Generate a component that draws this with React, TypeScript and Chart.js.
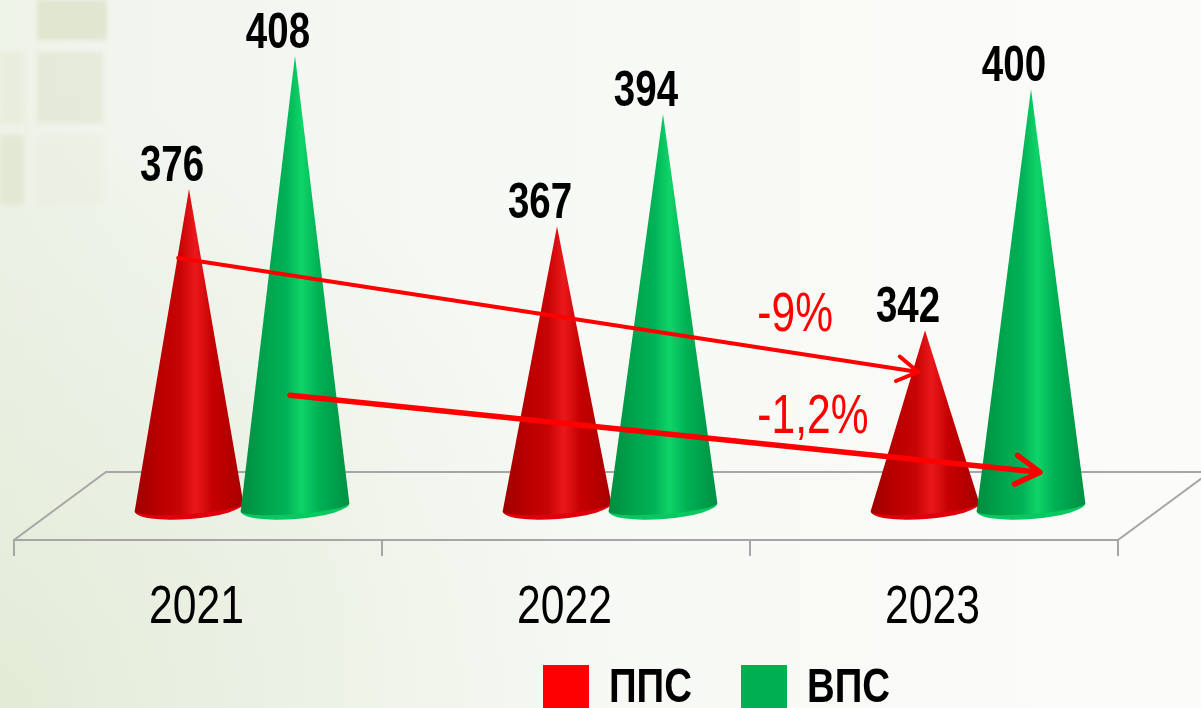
import React, { useEffect, useRef } from "react";
import { Chart, registerables } from "chart.js";

Chart.register(...registerables);

const years = ["2021", "2022", "2023"];
const ppsName = "ППС";
const vpsName = "ВПС";
const ppsValues = [376, 367, 342];
const vpsValues = [408, 394, 400];

const arrowLabels = ["-9%", "-1,2%"];
const arrowFromIndex = [-0.054, 0.25];
const arrowToIndex = [1.957, 2.288];
const arrowFromValue = [359.4, 326.4];
const arrowToValue = [332, 307.9];
const arrowWidths = [4, 5.5];
const arrowLabelIndex = [1.52, 1.52];
const arrowLabelValue = [341.8, 317.3];

const FONT = '"Liberation Sans", Arial, sans-serif';

const shades: Record<string, string[]> = {
  red: ["#a00000", "#bc0000", "#c80404", "#ea181c", "#c40000", "#a80000", "#e0000c"],
  green: ["#008c40", "#00a64e", "#00b257", "#0fd468", "#00b054", "#009044", "#08c862"],
};

function narrowText(ctx: CanvasRenderingContext2D, text: string, x: number, y: number, sx: number) {
  ctx.save();
  ctx.translate(x, y);
  ctx.scale(sx, 1);
  ctx.fillText(text, 0, 0);
  ctx.restore();
}

function drawCone(ctx: CanvasRenderingContext2D, cx: number, tip: number, base: number, halfW: number, tone: string[]) {
  const rot = -0.075;
  ctx.save();
  ctx.fillStyle = tone[6];
  ctx.beginPath();
  ctx.ellipse(cx, base, halfW, 12, rot, 0, Math.PI);
  ctx.closePath();
  ctx.fill();
  const g = ctx.createLinearGradient(cx - halfW, 0, cx + halfW, 0);
  [0, 0.25, 0.42, 0.56, 0.72, 1].forEach((s, i) => g.addColorStop(s, tone[i]));
  ctx.fillStyle = g;
  ctx.beginPath();
  ctx.moveTo(cx, tip);
  ctx.lineTo(cx + halfW * Math.cos(rot), base + halfW * Math.sin(rot));
  ctx.ellipse(cx, base, halfW, 7, rot, 0, Math.PI);
  ctx.closePath();
  ctx.fill();
  ctx.restore();
}

const backdrop = {
  id: "backdrop",
  beforeDraw(chart: any) {
    const { ctx, width, height } = chart;
    ctx.save();
    const h = ctx.createLinearGradient(0, 0, width, 0);
    h.addColorStop(0, "#eef3e8");
    h.addColorStop(0.1, "#f1f5ee");
    h.addColorStop(0.35, "#f6f8f3");
    h.addColorStop(1, "#fbfcf9");
    ctx.fillStyle = h;
    ctx.fillRect(0, 0, width, height);
    const v = ctx.createRadialGradient(0, 708, 20, 0, 708, 620);
    v.addColorStop(0, "rgba(214,228,196,0.5)");
    v.addColorStop(0.5, "rgba(222,233,210,0.35)");
    v.addColorStop(1, "rgba(222,233,210,0)");
    ctx.fillStyle = v;
    ctx.fillRect(0, 0, width, height);
    const cells = [
      [37, 0, 70, 40, 0.7], [37, 52, 66, 71, 0.45], [0, 52, 24, 71, 0.3],
      [37, 135, 66, 70, 0.12], [0, 135, 24, 70, 0.55],
    ];
    ctx.filter = "blur(2px)";
    cells.forEach(([x, y, w, hh, a]) => {
      ctx.fillStyle = `rgba(218,224,196,${a})`;
      ctx.fillRect(x, y, w, hh);
    });
    ctx.restore();
  },
};

const cones = {
  id: "cones",
  beforeDatasetsDraw(chart: any) {
    const { ctx, chartArea, scales } = chart;
    const depthX = 92, depthY = 68;
    ctx.save();
    ctx.strokeStyle = "#a6a6a6";
    ctx.lineWidth = 2;
    ctx.beginPath();
    ctx.moveTo(chartArea.left, chartArea.bottom);
    ctx.lineTo(chartArea.left + depthX, chartArea.bottom - depthY);
    ctx.lineTo(chartArea.right + depthX, chartArea.bottom - depthY);
    ctx.lineTo(chartArea.right, chartArea.bottom);
    ctx.stroke();
    ctx.restore();
    const base = scales.y.getPixelForValue(300) + 2;
    const tones = [shades.red, shades.green];
    years.forEach((_, i) => {
      [0, 1].forEach((d) => {
        const bar = chart.getDatasetMeta(d).data[i];
        drawCone(ctx, bar.x + 44, bar.y, base, bar.width / 2 + 1.5, tones[d]);
      });
    });
  },
  beforeDatasetDraw() {
    return false;
  },
  afterDatasetsDraw(chart: any) {
    const { ctx, scales } = chart;
    ctx.save();
    ctx.fillStyle = "#000";
    ctx.textAlign = "center";
    ctx.textBaseline = "alphabetic";
    ctx.font = `bold 50px ${FONT}`;
    [0, 1].forEach((d) => {
      chart.getDatasetMeta(d).data.forEach((bar: any, i: number) => {
        narrowText(ctx, String(chart.data.datasets[d].data[i]), bar.x + 27, bar.y - 8, 0.77);
      });
    });
    ctx.strokeStyle = "#ff0000";
    ctx.fillStyle = "#ff0000";
    ctx.lineCap = "round";
    ctx.lineJoin = "round";
    arrowLabels.forEach((label, i) => {
      const x1 = scales.x.getPixelForValue(arrowFromIndex[i]);
      const x2 = scales.x.getPixelForValue(arrowToIndex[i]);
      const y1 = scales.y.getPixelForValue(arrowFromValue[i]);
      const y2 = scales.y.getPixelForValue(arrowToValue[i]);
      const a = Math.atan2(y2 - y1, x2 - x1);
      const head = i === 0 ? 24 : 28;
      ctx.lineWidth = arrowWidths[i];
      ctx.beginPath();
      ctx.moveTo(x1, y1);
      ctx.lineTo(x2, y2);
      ctx.moveTo(x2 + head * Math.cos(a + 2.6), y2 + head * Math.sin(a + 2.6));
      ctx.lineTo(x2, y2);
      ctx.lineTo(x2 + head * Math.cos(a - 2.6), y2 + head * Math.sin(a - 2.6));
      ctx.stroke();
      ctx.textAlign = "left";
      ctx.font = `56px ${FONT}`;
      narrowText(ctx, label, scales.x.getPixelForValue(arrowLabelIndex[i]), scales.y.getPixelForValue(arrowLabelValue[i]), 0.76);
    });
    ctx.restore();
  },
};

const narrowParts = {
  id: "narrowParts",
  afterLayout(chart: any) {
    const xScale = chart.scales.x;
    xScale.drawLabels = function (area: any) {
      const ctx = this.ctx;
      this.getLabelItems(area).forEach((item: any) => {
        ctx.save();
        ctx.font = item.font.string;
        ctx.fillStyle = item.options.color;
        ctx.textAlign = "center";
        ctx.textBaseline = item.options.textBaseline;
        narrowText(ctx, String(item.label), item.options.translation[0] - 1.5, item.options.translation[1] + item.textOffset, 0.79);
        ctx.restore();
      });
    };
    chart.legend.draw = function () {
      const ctx = this.ctx;
      const squeeze = 0.8;
      let x = 543;
      ctx.save();
      ctx.font = `bold 48px ${FONT}`;
      ctx.textAlign = "left";
      ctx.textBaseline = "alphabetic";
      this.legendItems.forEach((item: any) => {
        ctx.fillStyle = item.fillStyle;
        ctx.fillRect(x, 665, 46, 46);
        ctx.fillStyle = "#000";
        narrowText(ctx, item.text, x + 66, 702, squeeze);
        x += 198;
      });
      ctx.restore();
    };
  },
};

export default function App() {
  const ref = useRef<HTMLCanvasElement>(null);
  useEffect(() => {
    document.body.style.margin = "0";
    const chart = new Chart(ref.current as HTMLCanvasElement, {
      type: "bar",
      data: {
        labels: years,
        datasets: [
          { label: ppsName, data: ppsValues, backgroundColor: "#ff0000", borderWidth: 0 },
          { label: vpsName, data: vpsValues, backgroundColor: "#00b050", borderWidth: 0 },
        ],
      },
      options: {
        animation: false,
        responsive: false,
        events: [],
        layout: { padding: { left: 14, right: 83, top: 0, bottom: 0 } },
        datasets: { bar: { categoryPercentage: 0.576, barPercentage: 1 } },
        scales: {
          x: {
            type: "category",
            afterFit: (s: any) => {
              s.height = 168 - s.chart.legend.height;
            },
            grid: { drawOnChartArea: false, tickLength: 16, color: "#a6a6a6", lineWidth: 2 },
            border: { color: "#a6a6a6", width: 2 },
            ticks: {
              color: "#000",
              padding: 20,
              maxRotation: 0,
              font: { family: FONT, size: 54, lineHeight: 1.2 },
            },
          },
          y: { display: false, min: 291.6, max: 421.4 },
        },
        plugins: {
          tooltip: { enabled: false },
          title: { display: false },
          legend: {
            position: "bottom",
            labels: {
              boxWidth: 46,
              boxHeight: 46,
              padding: 0,
              color: "#000",
              font: { family: FONT, size: 48, weight: "bold" },
            },
          },
        },
      } as any,
      plugins: [backdrop, cones, narrowParts],
    });
    return () => chart.destroy();
  }, []);
  return (
    <div style={{ position: "absolute", left: 0, top: 0, width: 1201, height: 708, overflow: "hidden" }}>
      <canvas ref={ref} width={1201} height={708} style={{ display: "block" }} />
    </div>
  );
}
